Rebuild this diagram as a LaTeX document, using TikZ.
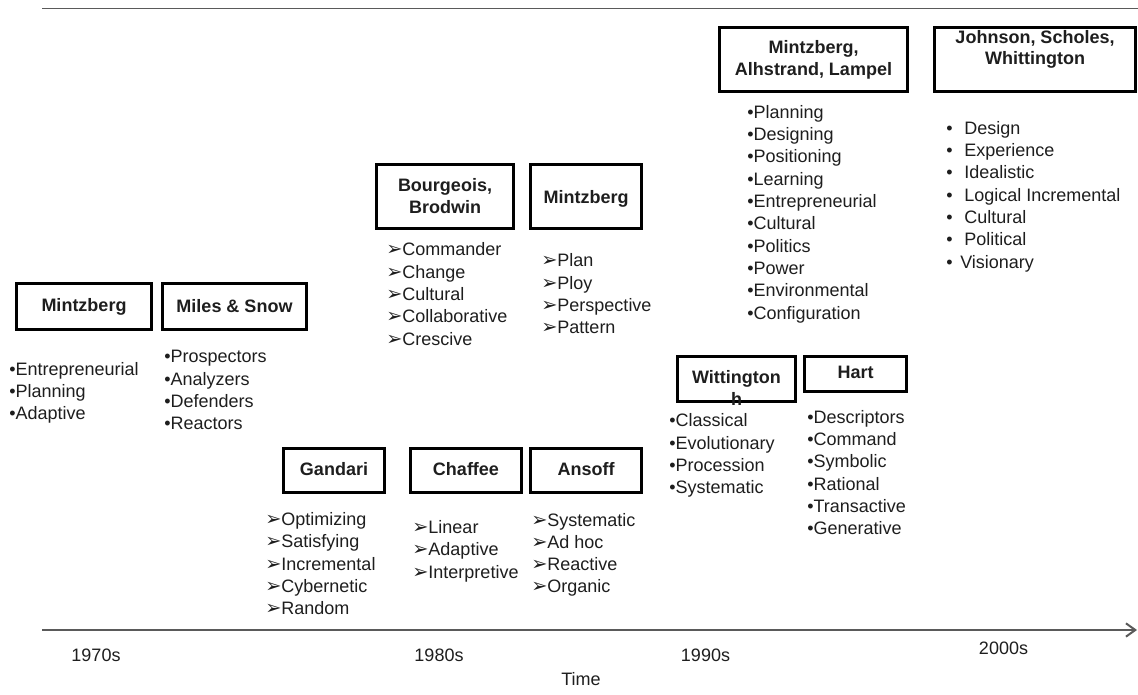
\documentclass[tikz,border=0pt]{standalone}
\usepackage{fontspec}
\setmainfont{Liberation Sans}
\newfontfamily\dvfont{DejaVu Sans}
\usetikzlibrary{arrows.meta}
\definecolor{ink}{HTML}{1E1E1E}
\definecolor{rulegray}{HTML}{5A5A5A}
\newcommand\ar{{\dvfont\fontsize{14.5pt}{14.5pt}\selectfont ➢}}
\newcommand\jb{\makebox[13.5pt][l]{•}}
\newcommand\jbs{\makebox[10.5pt][l]{•}}
\newcommand\bx[5]{\node[boxst, minimum width={(#4-#2-3)*0.75pt}, minimum height={(#5-#3-3)*0.75pt}] (#1) at ({(#2+#4)/2},{(#3+#5)/2}) {};}
\newcommand\itemlist[4]{\foreach \t [count=\i] in {#4}{\node[lst] (#1-\i) at ({#2},{#3+22.33*(\i-1)}) {\t};}}
\begin{document}
\begin{tikzpicture}[x=0.75pt,y=-0.75pt,
 boxst/.style={draw=black, line width=2.3pt, inner sep=0pt, outer sep=0pt},
 hd/.style={font=\fontsize{13.5pt}{16.5pt}\selectfont\bfseries, text=ink, inner sep=0pt, anchor=base},
 lst/.style={font=\fontsize{13.5pt}{16.5pt}\selectfont, text=ink, inner sep=0pt, anchor=base west},
 lbl/.style={font=\fontsize{13.5pt}{16.5pt}\selectfont, text=ink, inner sep=0pt, anchor=base}]
\useasboundingbox (0,0) rectangle (1138,695);
\fill[white] (0,0) rectangle (1138,695);

% top rule
\coordinate (ts) at (42,8.5);
\coordinate (te) at (1138,8.5);
\draw[rulegray, line width=1.2pt] (ts) -- (te);

% boxes
\bx{m70}{15}{282}{153}{331}
\bx{ms}{161}{282}{308}{331}
\bx{bb}{375}{163}{515}{230}
\bx{m80}{529}{163}{643}{230}
\bx{gan}{282}{447}{386}{494}
\bx{chaf}{409}{447}{523}{494}
\bx{ans}{529}{447}{643}{494}
\bx{witt}{676}{355}{797}{403}
\bx{hart}{803}{355}{908}{393}
\bx{mal}{718}{26}{909}{93}
\bx{jsw}{933}{26}{1137}{93}

% box titles
\node[hd] (m70t) at (84,311.7) {Mintzberg};
\node[hd] (mst) at (234.5,312) {Miles \& Snow};
\node[hd] (bbt1) at (445,191.7) {Bourgeois,};
\node[hd] (bbt2) at (445,213.3) {Brodwin};
\node[hd] (m80t) at (586,203.3) {Mintzberg};
\node[hd] (gant) at (334,475) {Gandari};
\node[hd] (chaft) at (466,475) {Chaffee};
\node[hd] (anst) at (586,475) {Ansoff};
\node[hd] (wittt1) at (736.5,383) {Wittington};
\node[hd] (wittt2) at (736.5,405) {h};
\node[hd] (hartt) at (855.5,378.3) {Hart};
\node[hd] (malt1) at (813.5,53.3) {Mintzberg,};
\node[hd] (malt2) at (813.5,76) {Alhstrand, Lampel};
\node[hd] (jswt1) at (1035,43.3) {Johnson, Scholes,};
\node[hd] (jswt2) at (1035,65) {Whittington};

% lists
\itemlist{m70l}{9}{375}{•Entrepreneurial, •Planning, •Adaptive}
\itemlist{msl}{164}{362.7}{•Prospectors, •Analyzers, •Defenders, •Reactors}
\itemlist{bbl}{386}{256}{\ar Commander, \ar Change, \ar Cultural, \ar Collaborative, \ar Crescive}
\itemlist{m80l}{541}{267}{\ar Plan, \ar Ploy, \ar Perspective, \ar Pattern}
\itemlist{ganl}{265}{525.5}{\ar Optimizing, \ar Satisfying, \ar Incremental, \ar Cybernetic, \ar Random}
\itemlist{chafl}{412}{533.5}{\ar Linear, \ar Adaptive, \ar Interpretive}
\itemlist{ansl}{531}{526}{\ar Systematic, \ar Ad hoc, \ar Reactive, \ar Organic}
\itemlist{wittl}{669}{426.7}{•Classical, •Evolutionary, •Procession, •Systematic}
\itemlist{hartl}{807}{423.3}{•Descriptors, •Command, •Symbolic, •Rational, •Transactive, •Generative}
\itemlist{mall}{747}{118.3}{•Planning, •Designing, •Positioning, •Learning, •Entrepreneurial, •Cultural, •Politics, •Power, •Environmental, •Configuration}
\itemlist{jswl}{946}{134.3}{\jb Design, \jb Experience, \jb Idealistic, \jb Logical Incremental, \jb Cultural, \jb Political, \jbs Visionary}

% time axis
\coordinate (axs) at (42,630);
\coordinate (axe) at (1137,630);
\draw[rulegray, line width=1.5pt, -{Straight Barb[length=7pt,width=10pt]}] (axs) -- (axe);
\node[lbl] (d70) at (96,661) {1970s};
\node[lbl] (d80) at (439,661) {1980s};
\node[lbl] (d90) at (705.5,661) {1990s};
\node[lbl] (d00) at (1003.5,654) {2000s};
\node[lbl] (time) at (581,685) {Time};
\end{tikzpicture}
\end{document}
